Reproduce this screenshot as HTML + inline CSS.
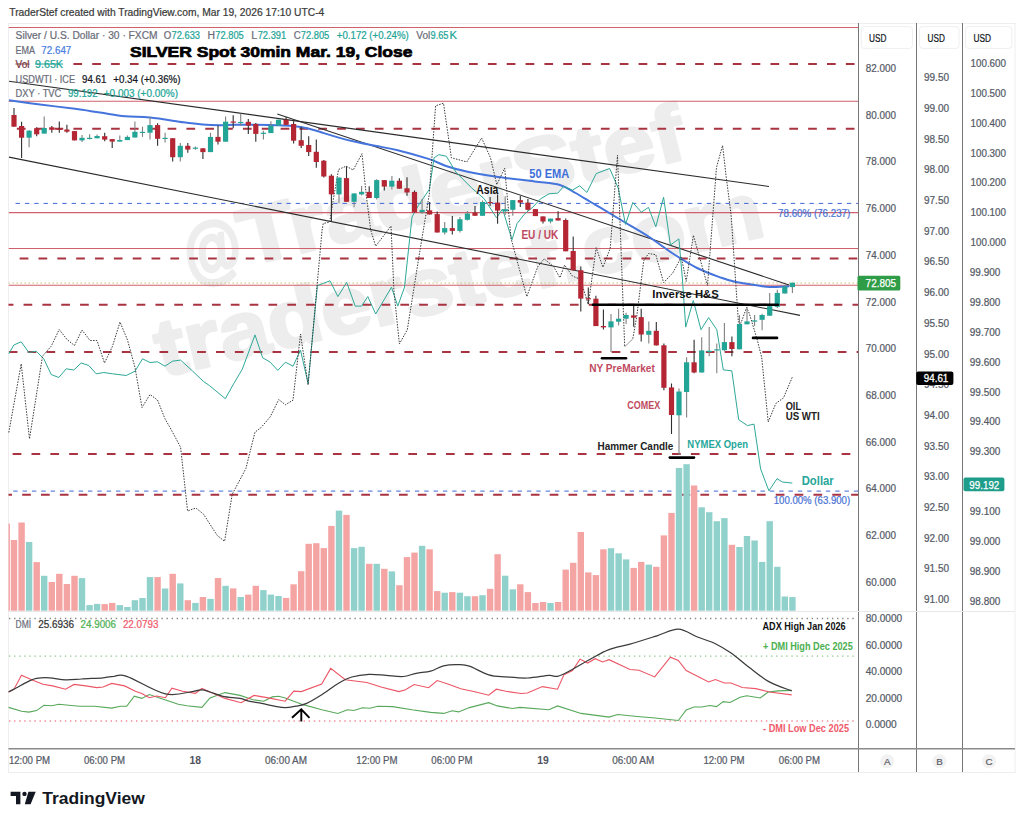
<!DOCTYPE html>
<html><head><meta charset="utf-8">
<style>
html,body{margin:0;padding:0;background:#fff;}
body{width:1024px;height:824px;overflow:hidden;position:relative;font-family:"Liberation Sans",sans-serif;}
svg{position:absolute;left:0;top:0;}
text{font-family:"Liberation Sans",sans-serif;}
</style></head><body>
<svg width="1024" height="824" viewBox="0 0 1024 824">
<rect width="1024" height="824" fill="#fff"/>
<!-- frame -->
<rect x="8.5" y="23.5" width="1006.5" height="749" fill="none" stroke="#eeeeee" stroke-width="1"/>
<line x1="858.5" y1="23" x2="858.5" y2="772" stroke="#767676" stroke-width="1"/>
<line x1="916.5" y1="23" x2="916.5" y2="772" stroke="#767676" stroke-width="1"/>
<line x1="962.5" y1="23" x2="962.5" y2="772" stroke="#767676" stroke-width="1"/>
<line x1="8.5" y1="611.5" x2="1015" y2="611.5" stroke="#e8e8e8" stroke-width="1"/>
<line x1="8.5" y1="748.8" x2="1015" y2="748.8" stroke="#8a8a8a" stroke-width="1.6"/>
<g opacity="0.065" fill="#000" stroke="#000" stroke-width="3" stroke-linejoin="round" font-family="Liberation Sans" font-weight="bold">
<g transform="translate(190,280) rotate(-13.8)"><text x="0" y="0" font-size="74" transform="scale(0.8,1)">@</text><text x="58" y="0" font-size="80" textLength="456" lengthAdjust="spacingAndGlyphs">TraderStef</text></g>
<text x="0" y="0" font-size="80" textLength="622" lengthAdjust="spacingAndGlyphs" transform="translate(162,377) rotate(-13.2)">traderstef.com</text>
</g>
<defs><clipPath id="mp"><rect x="8.5" y="24" width="849.5" height="588"/></clipPath></defs><g clip-path="url(#mp)">
<line x1="8.5" y1="27.5" x2="858" y2="27.5" stroke="#d0606c" stroke-width="1.1"/>
<line x1="8.5" y1="101.3" x2="858" y2="101.3" stroke="#d0606c" stroke-width="1.1"/>
<line x1="8.5" y1="212.6" x2="858" y2="212.6" stroke="#d0606c" stroke-width="1.1"/>
<line x1="8.5" y1="248.5" x2="858" y2="248.5" stroke="#d0606c" stroke-width="1.1"/>
<line x1="8.5" y1="285.3" x2="858" y2="285.3" stroke="#d0606c" stroke-width="1.1"/>
<line x1="73.4" y1="64" x2="858" y2="64" stroke="#a93341" stroke-width="2.1" stroke-dasharray="8.7 10.14"/>
<line x1="16.86" y1="128.7" x2="858" y2="128.7" stroke="#a93341" stroke-width="2.1" stroke-dasharray="8.7 10.14"/>
<line x1="19.66" y1="258.5" x2="858" y2="258.5" stroke="#a93341" stroke-width="2.1" stroke-dasharray="8.7 10.14"/>
<line x1="4.72" y1="304.8" x2="858" y2="304.8" stroke="#a93341" stroke-width="2.1" stroke-dasharray="8.7 10.14"/>
<line x1="8.76" y1="352" x2="858" y2="352" stroke="#a93341" stroke-width="2.1" stroke-dasharray="8.7 10.14"/>
<line x1="12.66" y1="454" x2="858" y2="454" stroke="#a93341" stroke-width="2.1" stroke-dasharray="8.7 10.14"/>
<line x1="3.32" y1="494.8" x2="858" y2="494.8" stroke="#a93341" stroke-width="2.1" stroke-dasharray="8.7 10.14"/>
<line x1="15.56" y1="203.4" x2="858" y2="203.4" stroke="#4068d6" stroke-width="1" stroke-dasharray="4.4 4.94"/>
<line x1="13.28" y1="491.1" x2="858" y2="491.1" stroke="#4068d6" stroke-width="1" stroke-dasharray="4.4 4.94"/>
<line x1="8.5" y1="283" x2="858" y2="283" stroke="#c9c27a" stroke-width="1.2" stroke-dasharray="1.5 2.5"/>
</g>
<rect x="8.5" y="523.6" width="1.4" height="87.1" fill="#f5a4a4"/>
<rect x="10.8" y="540.0" width="6.4" height="70.7" fill="#f5a4a4"/>
<rect x="18.4" y="522.5" width="6.4" height="88.2" fill="#f5a4a4"/>
<rect x="25.9" y="542.0" width="6.4" height="68.7" fill="#90d1cb"/>
<rect x="33.5" y="562.1" width="6.4" height="48.6" fill="#f5a4a4"/>
<rect x="41.0" y="575.8" width="6.4" height="34.9" fill="#90d1cb"/>
<rect x="48.6" y="582.0" width="6.4" height="28.7" fill="#f5a4a4"/>
<rect x="56.1" y="573.8" width="6.4" height="36.9" fill="#f5a4a4"/>
<rect x="63.7" y="584.0" width="6.4" height="26.7" fill="#f5a4a4"/>
<rect x="71.3" y="575.8" width="6.4" height="34.9" fill="#f5a4a4"/>
<rect x="78.8" y="578.1" width="6.4" height="32.6" fill="#90d1cb"/>
<rect x="86.4" y="605.1" width="6.4" height="5.6" fill="#90d1cb"/>
<rect x="93.9" y="603.9" width="6.4" height="6.8" fill="#90d1cb"/>
<rect x="101.5" y="604.1" width="6.4" height="6.6" fill="#f5a4a4"/>
<rect x="109.0" y="602.9" width="6.4" height="7.8" fill="#f5a4a4"/>
<rect x="116.6" y="605.1" width="6.4" height="5.6" fill="#90d1cb"/>
<rect x="124.2" y="607.0" width="6.4" height="3.7" fill="#90d1cb"/>
<rect x="131.7" y="600.2" width="6.4" height="10.5" fill="#90d1cb"/>
<rect x="139.3" y="598.0" width="6.4" height="12.7" fill="#90d1cb"/>
<rect x="146.8" y="577.1" width="6.4" height="33.6" fill="#90d1cb"/>
<rect x="154.4" y="577.1" width="6.4" height="33.6" fill="#f5a4a4"/>
<rect x="161.9" y="588.5" width="6.4" height="22.2" fill="#90d1cb"/>
<rect x="169.5" y="573.8" width="6.4" height="36.9" fill="#f5a4a4"/>
<rect x="177.1" y="583.4" width="6.4" height="27.3" fill="#90d1cb"/>
<rect x="184.6" y="600.2" width="6.4" height="10.5" fill="#f5a4a4"/>
<rect x="192.2" y="602.9" width="6.4" height="7.8" fill="#90d1cb"/>
<rect x="199.7" y="597.0" width="6.4" height="13.7" fill="#f5a4a4"/>
<rect x="207.3" y="598.9" width="6.4" height="11.8" fill="#90d1cb"/>
<rect x="214.8" y="578.0" width="6.4" height="32.7" fill="#f5a4a4"/>
<rect x="222.4" y="585.8" width="6.4" height="24.9" fill="#90d1cb"/>
<rect x="230.0" y="588.4" width="6.4" height="22.3" fill="#f5a4a4"/>
<rect x="237.5" y="597.0" width="6.4" height="13.7" fill="#90d1cb"/>
<rect x="245.1" y="594.6" width="6.4" height="16.1" fill="#f5a4a4"/>
<rect x="252.6" y="585.8" width="6.4" height="24.9" fill="#f5a4a4"/>
<rect x="260.2" y="590.1" width="6.4" height="20.6" fill="#90d1cb"/>
<rect x="267.7" y="594.6" width="6.4" height="16.1" fill="#90d1cb"/>
<rect x="275.3" y="596.0" width="6.4" height="14.7" fill="#90d1cb"/>
<rect x="282.9" y="597.9" width="6.4" height="12.8" fill="#f5a4a4"/>
<rect x="290.4" y="584.3" width="6.4" height="26.4" fill="#f5a4a4"/>
<rect x="298.0" y="571.2" width="6.4" height="39.5" fill="#f5a4a4"/>
<rect x="305.5" y="543.8" width="6.4" height="66.9" fill="#f5a4a4"/>
<rect x="313.1" y="543.2" width="6.4" height="67.5" fill="#f5a4a4"/>
<rect x="320.6" y="548.1" width="6.4" height="62.6" fill="#f5a4a4"/>
<rect x="328.2" y="525.9" width="6.4" height="84.8" fill="#f5a4a4"/>
<rect x="335.8" y="510.6" width="6.4" height="100.1" fill="#90d1cb"/>
<rect x="343.3" y="514.9" width="6.4" height="95.8" fill="#f5a4a4"/>
<rect x="350.9" y="548.1" width="6.4" height="62.6" fill="#90d1cb"/>
<rect x="358.4" y="546.8" width="6.4" height="63.9" fill="#90d1cb"/>
<rect x="366.0" y="563.8" width="6.4" height="46.9" fill="#f5a4a4"/>
<rect x="373.5" y="563.8" width="6.4" height="46.9" fill="#90d1cb"/>
<rect x="381.1" y="568.8" width="6.4" height="41.9" fill="#f5a4a4"/>
<rect x="388.7" y="571.4" width="6.4" height="39.3" fill="#90d1cb"/>
<rect x="396.2" y="585.2" width="6.4" height="25.5" fill="#f5a4a4"/>
<rect x="403.8" y="557.1" width="6.4" height="53.6" fill="#f5a4a4"/>
<rect x="411.3" y="552.6" width="6.4" height="58.1" fill="#f5a4a4"/>
<rect x="418.9" y="545.8" width="6.4" height="64.9" fill="#90d1cb"/>
<rect x="426.4" y="549.3" width="6.4" height="61.4" fill="#f5a4a4"/>
<rect x="434.0" y="591.1" width="6.4" height="19.6" fill="#f5a4a4"/>
<rect x="441.5" y="592.7" width="6.4" height="18.0" fill="#90d1cb"/>
<rect x="449.1" y="592.1" width="6.4" height="18.6" fill="#f5a4a4"/>
<rect x="456.7" y="592.7" width="6.4" height="18.0" fill="#90d1cb"/>
<rect x="464.2" y="596.2" width="6.4" height="14.5" fill="#90d1cb"/>
<rect x="471.8" y="596.2" width="6.4" height="14.5" fill="#f5a4a4"/>
<rect x="479.3" y="595.2" width="6.4" height="15.5" fill="#90d1cb"/>
<rect x="486.9" y="588.8" width="6.4" height="21.9" fill="#f5a4a4"/>
<rect x="494.4" y="554.2" width="6.4" height="56.5" fill="#f5a4a4"/>
<rect x="502.0" y="575.7" width="6.4" height="35.0" fill="#90d1cb"/>
<rect x="509.6" y="589.3" width="6.4" height="21.4" fill="#90d1cb"/>
<rect x="517.1" y="584.3" width="6.4" height="26.4" fill="#f5a4a4"/>
<rect x="524.7" y="592.1" width="6.4" height="18.6" fill="#f5a4a4"/>
<rect x="532.2" y="603.0" width="6.4" height="7.7" fill="#f5a4a4"/>
<rect x="539.8" y="602.0" width="6.4" height="8.7" fill="#f5a4a4"/>
<rect x="547.3" y="603.0" width="6.4" height="7.7" fill="#90d1cb"/>
<rect x="554.9" y="602.0" width="6.4" height="8.7" fill="#f5a4a4"/>
<rect x="562.5" y="569.6" width="6.4" height="41.1" fill="#f5a4a4"/>
<rect x="570.0" y="562.8" width="6.4" height="47.9" fill="#f5a4a4"/>
<rect x="577.6" y="532.0" width="6.4" height="78.7" fill="#f5a4a4"/>
<rect x="585.1" y="572.4" width="6.4" height="38.3" fill="#f5a4a4"/>
<rect x="592.7" y="575.1" width="6.4" height="35.6" fill="#f5a4a4"/>
<rect x="600.2" y="549.3" width="6.4" height="61.4" fill="#f5a4a4"/>
<rect x="607.8" y="548.2" width="6.4" height="62.5" fill="#90d1cb"/>
<rect x="615.4" y="553.3" width="6.4" height="57.4" fill="#90d1cb"/>
<rect x="622.9" y="559.4" width="6.4" height="51.3" fill="#90d1cb"/>
<rect x="630.5" y="567.9" width="6.4" height="42.8" fill="#f5a4a4"/>
<rect x="638.0" y="561.9" width="6.4" height="48.8" fill="#f5a4a4"/>
<rect x="645.6" y="564.6" width="6.4" height="46.1" fill="#90d1cb"/>
<rect x="653.1" y="566.8" width="6.4" height="43.9" fill="#f5a4a4"/>
<rect x="660.7" y="535.4" width="6.4" height="75.3" fill="#f5a4a4"/>
<rect x="668.3" y="512.9" width="6.4" height="97.8" fill="#f5a4a4"/>
<rect x="675.8" y="468.0" width="6.4" height="142.7" fill="#90d1cb"/>
<rect x="683.4" y="464.2" width="6.4" height="146.5" fill="#90d1cb"/>
<rect x="690.9" y="485.5" width="6.4" height="125.2" fill="#f5a4a4"/>
<rect x="698.5" y="507.3" width="6.4" height="103.4" fill="#90d1cb"/>
<rect x="706.0" y="512.2" width="6.4" height="98.5" fill="#90d1cb"/>
<rect x="713.6" y="521.2" width="6.4" height="89.5" fill="#90d1cb"/>
<rect x="721.2" y="518.1" width="6.4" height="92.6" fill="#90d1cb"/>
<rect x="728.7" y="544.8" width="6.4" height="65.9" fill="#f5a4a4"/>
<rect x="736.3" y="547.0" width="6.4" height="63.7" fill="#90d1cb"/>
<rect x="743.8" y="536.0" width="6.4" height="74.7" fill="#90d1cb"/>
<rect x="751.4" y="540.5" width="6.4" height="70.2" fill="#90d1cb"/>
<rect x="758.9" y="561.9" width="6.4" height="48.8" fill="#90d1cb"/>
<rect x="766.5" y="521.2" width="6.4" height="89.5" fill="#90d1cb"/>
<rect x="774.1" y="566.8" width="6.4" height="43.9" fill="#90d1cb"/>
<rect x="781.6" y="596.5" width="6.4" height="14.2" fill="#90d1cb"/>
<rect x="789.2" y="597.1" width="6.4" height="13.6" fill="#90d1cb"/>
<g stroke="#2b2b2b" stroke-width="1.1" fill="none">
<line x1="9" y1="81.2" x2="769" y2="186.5"/>
<line x1="9" y1="157.1" x2="800" y2="315.4"/>
<line x1="277.3" y1="113.9" x2="789" y2="285"/>
</g>
<path d="M9.0,100.3 C14.2,101.0 29.0,103.1 40.0,104.5 C51.0,105.9 65.0,107.5 75.0,108.8 C85.0,110.1 91.7,111.3 100.0,112.5 C108.3,113.7 116.7,115.4 125.0,116.2 C133.3,117.0 140.2,116.5 150.0,117.5 C159.8,118.5 174.8,121.1 183.5,122.3 C192.2,123.5 196.4,124.0 202.5,124.5 C208.6,125.0 214.7,125.2 220.0,125.3 C225.3,125.3 228.3,124.9 234.3,124.8 C240.3,124.7 248.9,124.7 256.0,124.8 C263.1,124.9 270.6,125.0 276.6,125.2 C282.7,125.4 287.1,125.5 292.3,126.0 C297.6,126.5 302.8,127.2 308.1,128.4 C313.4,129.6 318.6,131.5 323.9,133.1 C329.2,134.7 334.4,136.4 339.7,137.9 C344.9,139.4 349.5,140.5 355.4,141.8 C361.3,143.1 368.1,144.4 375.0,145.8 C381.9,147.2 387.8,147.8 396.7,150.0 C405.6,152.2 420.0,156.2 428.5,158.9 C437.0,161.7 441.1,164.4 447.5,166.5 C453.9,168.6 458.7,169.8 466.6,171.5 C474.5,173.2 483.7,174.8 495.0,176.5 C506.3,178.2 523.8,180.1 534.6,181.5 C545.4,182.9 553.1,183.1 559.9,185.0 C566.7,186.9 570.4,190.1 575.6,193.0 C580.9,195.9 587.3,200.1 591.4,202.5 C595.5,204.9 594.5,204.2 600.0,207.4 C605.5,210.7 616.2,217.2 624.3,222.0 C632.4,226.8 640.4,231.2 648.5,236.5 C656.6,241.8 664.7,248.2 672.8,253.5 C680.9,258.8 689.0,263.9 697.1,268.0 C705.2,272.1 714.9,275.4 721.4,277.8 C727.9,280.2 729.8,280.8 735.9,282.1 C742.0,283.4 752.1,284.7 757.8,285.5 C763.5,286.3 764.6,286.9 769.9,287.0 C775.1,287.1 786.1,286.4 789.3,286.3" fill="none" stroke="#4574dc" stroke-width="2"/>
<polyline points="8.8,353.8 13.8,345.0 21.2,341.8 28.8,352.5 36.2,351.2 43.8,358.8 51.2,374.5 58.8,377.5 66.2,368.8 73.8,370.0 81.2,363.0 88.8,365.5 96.2,373.8 103.8,372.5 112.5,373.8 126.2,375.5 135.0,371.2 142.5,358.8 150.0,362.5 157.5,361.8 165.0,366.2 172.5,361.2 180.6,360.1 192.8,371.3 203.4,381.4 209.5,385.6 225.3,398.7 233.8,383.5 242.3,369.2 255.0,334.9 262.6,357.7 270.2,362.2 277.8,370.4 285.4,362.2 293.0,366.2 300.5,350.1 308.1,383.5 317.4,285.6 330.0,280.8 337.9,296.6 346.7,282.4 355.2,306.1 361.5,306.1 367.8,296.6 375.7,314.0 391.5,287.2 397.8,306.1 404.5,287.2 412.0,217.0 418.3,205.5 429.3,189.4 434.1,157.8 438.8,154.7 446.3,156.2 455.8,172.0 471.5,187.8 484.2,198.8 496.6,217.8 502.5,209.0 512.0,239.7 517.0,223.7 524.3,214.2 533.0,207.0 540.3,199.0 549.0,193.8 557.8,193.1 563.6,186.5 572.3,190.2 579.6,185.8 586.9,192.4 596.2,173.6 609.7,168.5 618.2,188.0 625.5,224.4 632.8,202.5 641.3,212.2 648.5,207.4 655.8,226.8 663.6,197.2 670.4,245.0 678.9,238.9 682.5,280.0 685.7,327.1 693.3,300.5 701.0,329.7 708.6,317.6 716.8,329.7 723.3,369.9 731.8,370.8 738.7,419.7 747.5,425.6 754.0,424.1 760.6,468.9 768.9,490.8 777.0,478.7 782.4,482.0 792.3,483.1" fill="none" stroke="#2ea898" stroke-width="1"/>
<polyline points="8.8,432.5 21.2,363.8 29.5,438.8 42.5,356.2 51.2,346.2 59.2,329.5 67.0,339.5 74.5,345.5 82.0,330.0 90.0,340.5 97.0,340.5 104.5,363.0 112.5,346.2 120.0,322.0 127.5,340.0 135.0,367.5 142.0,407.5 150.0,394.5 157.5,400.0 165.0,418.8 170.0,427.5 180.6,447.2 187.6,511.0 195.8,508.0 203.4,514.0 217.1,535.3 224.6,541.3 232.2,494.3 245.9,468.5 255.0,432.1 261.1,427.5 270.2,416.9 278.7,399.6 285.4,404.7 293.0,400.2 300.5,334.0 308.1,385.0 322.1,230.0 323.2,223.5 329.7,222.1 333.0,201.2 337.4,176.0 338.5,169.5 346.1,166.2 353.2,170.0 362.0,153.7 366.3,195.7 370.7,230.0 375.7,246.2 391.0,226.0 394.0,291.9 399.4,343.9 407.3,329.7 419.9,250.9 429.3,194.1 435.6,105.8 443.5,103.2 451.4,157.8 466.8,161.9 481.6,138.0 490.5,157.8 496.8,184.6 504.7,168.2 511.0,238.3 526.8,296.6 537.8,266.7 544.1,258.8 553.6,266.7 559.9,277.7 564.6,265.1 572.5,276.1 580.4,279.3 588.3,304.5 596.2,247.7 602.9,267.3 610.2,248.4 617.5,155.2 624.7,346.8 632.8,338.8 636.8,316.0 643.7,260.8 648.5,253.5 655.8,254.7 663.6,282.6 672.8,272.9 681.3,257.1 686.2,281.4 693.4,235.3 707.5,285.5 716.5,167.3 722.6,145.5 726.2,177.0 731.1,214.7 738.4,322.0 740.9,323.3 746.6,307.5 749.2,313.2 757.3,340.0 761.7,357.5 768.2,421.9 775.9,403.4 783.5,397.9 792.3,377.1" fill="none" stroke="#3a3a3a" stroke-width="1" stroke-dasharray="1.5 1.3"/>
<line x1="14.0" y1="107.9" x2="14.0" y2="126.7" stroke="#2e2e2e" stroke-width="1.1"/>
<rect x="11.4" y="115.0" width="5.2" height="11.7" fill="#b52634"/>
<line x1="21.6" y1="121.8" x2="21.6" y2="158.1" stroke="#2e2e2e" stroke-width="1.1"/>
<rect x="19.0" y="126.0" width="5.2" height="11.7" fill="#b52634"/>
<line x1="29.1" y1="130.0" x2="29.1" y2="147.2" stroke="#808080" stroke-width="1.1"/>
<rect x="26.5" y="130.7" width="5.2" height="7.0" fill="#22a597"/>
<line x1="36.7" y1="127.3" x2="36.7" y2="136.2" stroke="#2e2e2e" stroke-width="1.1"/>
<rect x="34.1" y="128.2" width="5.2" height="6.1" fill="#b52634"/>
<line x1="44.2" y1="116.5" x2="44.2" y2="133.6" stroke="#808080" stroke-width="1.1"/>
<rect x="41.6" y="128.0" width="5.2" height="5.6" fill="#22a597"/>
<line x1="51.8" y1="126.0" x2="51.8" y2="132.8" stroke="#2e2e2e" stroke-width="1.1"/>
<rect x="49.2" y="127.3" width="5.2" height="2.5" fill="#b52634"/>
<line x1="59.3" y1="121.6" x2="59.3" y2="132.8" stroke="#2e2e2e" stroke-width="1.1"/>
<rect x="56.7" y="128.6" width="5.2" height="1.2" fill="#b52634"/>
<line x1="66.9" y1="124.8" x2="66.9" y2="132.8" stroke="#2e2e2e" stroke-width="1.1"/>
<rect x="64.3" y="129.5" width="5.2" height="2.2" fill="#b52634"/>
<line x1="74.5" y1="131.1" x2="74.5" y2="140.4" stroke="#2e2e2e" stroke-width="1.1"/>
<rect x="71.9" y="131.1" width="5.2" height="9.3" fill="#b52634"/>
<line x1="82.0" y1="134.9" x2="82.0" y2="141.9" stroke="#808080" stroke-width="1.1"/>
<rect x="79.4" y="137.8" width="5.2" height="2.6" fill="#22a597"/>
<line x1="89.6" y1="134.3" x2="89.6" y2="139.6" stroke="#808080" stroke-width="1.1"/>
<rect x="87.0" y="137.8" width="5.2" height="1.2" fill="#22a597"/>
<line x1="97.1" y1="134.5" x2="97.1" y2="138.3" stroke="#808080" stroke-width="1.1"/>
<rect x="94.5" y="136.0" width="5.2" height="2.3" fill="#22a597"/>
<line x1="104.7" y1="132.8" x2="104.7" y2="141.3" stroke="#2e2e2e" stroke-width="1.1"/>
<rect x="102.1" y="136.2" width="5.2" height="3.4" fill="#b52634"/>
<line x1="112.2" y1="139.1" x2="112.2" y2="148.0" stroke="#2e2e2e" stroke-width="1.1"/>
<rect x="109.6" y="139.1" width="5.2" height="2.5" fill="#b52634"/>
<line x1="119.8" y1="135.5" x2="119.8" y2="141.6" stroke="#808080" stroke-width="1.1"/>
<rect x="117.2" y="140.0" width="5.2" height="1.6" fill="#22a597"/>
<line x1="127.4" y1="135.4" x2="127.4" y2="140.1" stroke="#808080" stroke-width="1.1"/>
<rect x="124.8" y="136.9" width="5.2" height="3.2" fill="#22a597"/>
<line x1="134.9" y1="121.4" x2="134.9" y2="137.5" stroke="#808080" stroke-width="1.1"/>
<rect x="132.3" y="131.8" width="5.2" height="5.7" fill="#22a597"/>
<line x1="142.5" y1="126.7" x2="142.5" y2="136.9" stroke="#808080" stroke-width="1.1"/>
<rect x="139.9" y="131.8" width="5.2" height="1.2" fill="#22a597"/>
<line x1="150.0" y1="117.2" x2="150.0" y2="139.4" stroke="#808080" stroke-width="1.1"/>
<rect x="147.4" y="125.1" width="5.2" height="7.6" fill="#22a597"/>
<line x1="157.6" y1="123.2" x2="157.6" y2="145.8" stroke="#2e2e2e" stroke-width="1.1"/>
<rect x="155.0" y="125.1" width="5.2" height="13.7" fill="#b52634"/>
<line x1="165.1" y1="132.8" x2="165.1" y2="142.6" stroke="#808080" stroke-width="1.1"/>
<rect x="162.5" y="137.8" width="5.2" height="1.2" fill="#22a597"/>
<line x1="172.7" y1="138.2" x2="172.7" y2="161.6" stroke="#2e2e2e" stroke-width="1.1"/>
<rect x="170.1" y="138.2" width="5.2" height="19.0" fill="#b52634"/>
<line x1="180.3" y1="143.0" x2="180.3" y2="161.6" stroke="#808080" stroke-width="1.1"/>
<rect x="177.7" y="145.8" width="5.2" height="11.4" fill="#22a597"/>
<line x1="187.8" y1="143.0" x2="187.8" y2="152.8" stroke="#2e2e2e" stroke-width="1.1"/>
<rect x="185.2" y="145.8" width="5.2" height="3.8" fill="#b52634"/>
<line x1="195.4" y1="146.4" x2="195.4" y2="149.8" stroke="#808080" stroke-width="1.1"/>
<rect x="192.8" y="147.6" width="5.2" height="1.2" fill="#22a597"/>
<line x1="202.9" y1="148.3" x2="202.9" y2="159.1" stroke="#2e2e2e" stroke-width="1.1"/>
<rect x="200.3" y="148.3" width="5.2" height="3.8" fill="#b52634"/>
<line x1="210.5" y1="132.8" x2="210.5" y2="152.1" stroke="#808080" stroke-width="1.1"/>
<rect x="207.9" y="136.9" width="5.2" height="15.2" fill="#22a597"/>
<line x1="218.0" y1="125.5" x2="218.0" y2="144.5" stroke="#2e2e2e" stroke-width="1.1"/>
<rect x="215.4" y="136.9" width="5.2" height="4.8" fill="#b52634"/>
<line x1="225.6" y1="116.6" x2="225.6" y2="141.7" stroke="#808080" stroke-width="1.1"/>
<rect x="223.0" y="121.7" width="5.2" height="20.0" fill="#22a597"/>
<line x1="233.2" y1="115.3" x2="233.2" y2="128.3" stroke="#2e2e2e" stroke-width="1.1"/>
<rect x="230.6" y="121.5" width="5.2" height="1.2" fill="#b52634"/>
<line x1="240.7" y1="113.4" x2="240.7" y2="125.5" stroke="#808080" stroke-width="1.1"/>
<rect x="238.1" y="121.9" width="5.2" height="1.2" fill="#22a597"/>
<line x1="248.3" y1="118.9" x2="248.3" y2="133.9" stroke="#2e2e2e" stroke-width="1.1"/>
<rect x="245.7" y="121.8" width="5.2" height="3.8" fill="#b52634"/>
<line x1="255.8" y1="122.9" x2="255.8" y2="141.8" stroke="#2e2e2e" stroke-width="1.1"/>
<rect x="253.2" y="124.0" width="5.2" height="9.9" fill="#b52634"/>
<line x1="263.4" y1="130.8" x2="263.4" y2="139.4" stroke="#808080" stroke-width="1.1"/>
<rect x="260.8" y="132.7" width="5.2" height="1.2" fill="#22a597"/>
<line x1="270.9" y1="121.3" x2="270.9" y2="133.1" stroke="#808080" stroke-width="1.1"/>
<rect x="268.3" y="125.6" width="5.2" height="7.5" fill="#22a597"/>
<line x1="278.5" y1="119.7" x2="278.5" y2="125.6" stroke="#808080" stroke-width="1.1"/>
<rect x="275.9" y="119.7" width="5.2" height="5.9" fill="#22a597"/>
<line x1="286.1" y1="117.0" x2="286.1" y2="124.9" stroke="#2e2e2e" stroke-width="1.1"/>
<rect x="283.5" y="119.7" width="5.2" height="5.2" fill="#b52634"/>
<line x1="293.6" y1="121.3" x2="293.6" y2="143.4" stroke="#2e2e2e" stroke-width="1.1"/>
<rect x="291.0" y="124.0" width="5.2" height="16.7" fill="#b52634"/>
<line x1="301.2" y1="126.8" x2="301.2" y2="148.1" stroke="#2e2e2e" stroke-width="1.1"/>
<rect x="298.6" y="140.2" width="5.2" height="5.6" fill="#b52634"/>
<line x1="308.7" y1="136.3" x2="308.7" y2="156.0" stroke="#2e2e2e" stroke-width="1.1"/>
<rect x="306.1" y="145.0" width="5.2" height="7.1" fill="#b52634"/>
<line x1="316.3" y1="139.4" x2="316.3" y2="167.8" stroke="#2e2e2e" stroke-width="1.1"/>
<rect x="313.7" y="151.8" width="5.2" height="10.2" fill="#b52634"/>
<line x1="323.8" y1="160.0" x2="323.8" y2="177.6" stroke="#2e2e2e" stroke-width="1.1"/>
<rect x="321.2" y="160.7" width="5.2" height="15.8" fill="#b52634"/>
<line x1="331.4" y1="174.2" x2="331.4" y2="221.5" stroke="#2e2e2e" stroke-width="1.1"/>
<rect x="328.8" y="175.7" width="5.2" height="18.7" fill="#b52634"/>
<line x1="339.0" y1="177.6" x2="339.0" y2="203.3" stroke="#808080" stroke-width="1.1"/>
<rect x="336.4" y="177.6" width="5.2" height="16.8" fill="#22a597"/>
<line x1="346.5" y1="166.3" x2="346.5" y2="201.8" stroke="#2e2e2e" stroke-width="1.1"/>
<rect x="343.9" y="178.1" width="5.2" height="23.7" fill="#b52634"/>
<line x1="354.1" y1="193.4" x2="354.1" y2="207.3" stroke="#808080" stroke-width="1.1"/>
<rect x="351.5" y="193.4" width="5.2" height="8.4" fill="#22a597"/>
<line x1="361.6" y1="186.0" x2="361.6" y2="195.4" stroke="#808080" stroke-width="1.1"/>
<rect x="359.0" y="191.8" width="5.2" height="2.6" fill="#22a597"/>
<line x1="369.2" y1="186.2" x2="369.2" y2="198.0" stroke="#2e2e2e" stroke-width="1.1"/>
<rect x="366.6" y="191.9" width="5.2" height="6.1" fill="#b52634"/>
<line x1="376.7" y1="179.2" x2="376.7" y2="199.5" stroke="#808080" stroke-width="1.1"/>
<rect x="374.1" y="180.1" width="5.2" height="17.9" fill="#22a597"/>
<line x1="384.3" y1="180.1" x2="384.3" y2="190.6" stroke="#2e2e2e" stroke-width="1.1"/>
<rect x="381.7" y="180.1" width="5.2" height="6.5" fill="#b52634"/>
<line x1="391.9" y1="176.0" x2="391.9" y2="189.6" stroke="#808080" stroke-width="1.1"/>
<rect x="389.2" y="180.7" width="5.2" height="5.9" fill="#22a597"/>
<line x1="399.4" y1="178.2" x2="399.4" y2="188.7" stroke="#2e2e2e" stroke-width="1.1"/>
<rect x="396.8" y="180.7" width="5.2" height="8.0" fill="#b52634"/>
<line x1="407.0" y1="177.3" x2="407.0" y2="195.7" stroke="#2e2e2e" stroke-width="1.1"/>
<rect x="404.4" y="188.3" width="5.2" height="4.2" fill="#b52634"/>
<line x1="414.5" y1="190.4" x2="414.5" y2="212.5" stroke="#2e2e2e" stroke-width="1.1"/>
<rect x="411.9" y="191.9" width="5.2" height="20.6" fill="#b52634"/>
<line x1="422.1" y1="198.9" x2="422.1" y2="214.1" stroke="#808080" stroke-width="1.1"/>
<rect x="419.5" y="209.9" width="5.2" height="2.3" fill="#22a597"/>
<line x1="429.6" y1="202.0" x2="429.6" y2="214.5" stroke="#2e2e2e" stroke-width="1.1"/>
<rect x="427.0" y="210.3" width="5.2" height="4.2" fill="#b52634"/>
<line x1="437.2" y1="211.6" x2="437.2" y2="232.5" stroke="#2e2e2e" stroke-width="1.1"/>
<rect x="434.6" y="214.1" width="5.2" height="18.4" fill="#b52634"/>
<line x1="444.7" y1="222.1" x2="444.7" y2="234.4" stroke="#808080" stroke-width="1.1"/>
<rect x="442.1" y="228.1" width="5.2" height="4.4" fill="#22a597"/>
<line x1="452.3" y1="216.0" x2="452.3" y2="234.4" stroke="#2e2e2e" stroke-width="1.1"/>
<rect x="449.7" y="228.1" width="5.2" height="2.8" fill="#b52634"/>
<line x1="459.9" y1="217.0" x2="459.9" y2="232.5" stroke="#808080" stroke-width="1.1"/>
<rect x="457.3" y="219.2" width="5.2" height="11.7" fill="#22a597"/>
<line x1="467.4" y1="210.9" x2="467.4" y2="220.5" stroke="#808080" stroke-width="1.1"/>
<rect x="464.8" y="213.5" width="5.2" height="6.3" fill="#22a597"/>
<line x1="475.0" y1="205.9" x2="475.0" y2="215.8" stroke="#2e2e2e" stroke-width="1.1"/>
<rect x="472.4" y="212.5" width="5.2" height="3.3" fill="#b52634"/>
<line x1="482.5" y1="200.5" x2="482.5" y2="215.8" stroke="#808080" stroke-width="1.1"/>
<rect x="479.9" y="202.0" width="5.2" height="13.8" fill="#22a597"/>
<line x1="490.1" y1="197.0" x2="490.1" y2="205.9" stroke="#2e2e2e" stroke-width="1.1"/>
<rect x="487.5" y="202.0" width="5.2" height="1.2" fill="#b52634"/>
<line x1="497.6" y1="194.6" x2="497.6" y2="223.7" stroke="#2e2e2e" stroke-width="1.1"/>
<rect x="495.0" y="202.6" width="5.2" height="8.0" fill="#b52634"/>
<line x1="505.2" y1="196.3" x2="505.2" y2="215.0" stroke="#808080" stroke-width="1.1"/>
<rect x="502.6" y="209.1" width="5.2" height="2.2" fill="#22a597"/>
<line x1="512.8" y1="200.1" x2="512.8" y2="215.7" stroke="#808080" stroke-width="1.1"/>
<rect x="510.2" y="200.1" width="5.2" height="9.7" fill="#22a597"/>
<line x1="520.3" y1="196.0" x2="520.3" y2="206.9" stroke="#2e2e2e" stroke-width="1.1"/>
<rect x="517.7" y="200.1" width="5.2" height="2.5" fill="#b52634"/>
<line x1="527.9" y1="198.9" x2="527.9" y2="210.6" stroke="#2e2e2e" stroke-width="1.1"/>
<rect x="525.3" y="202.6" width="5.2" height="7.2" fill="#b52634"/>
<line x1="535.4" y1="209.1" x2="535.4" y2="216.1" stroke="#2e2e2e" stroke-width="1.1"/>
<rect x="532.8" y="209.1" width="5.2" height="7.0" fill="#b52634"/>
<line x1="543.0" y1="216.4" x2="543.0" y2="223.4" stroke="#2e2e2e" stroke-width="1.1"/>
<rect x="540.4" y="216.4" width="5.2" height="5.1" fill="#b52634"/>
<line x1="550.5" y1="218.6" x2="550.5" y2="223.4" stroke="#808080" stroke-width="1.1"/>
<rect x="547.9" y="218.6" width="5.2" height="2.9" fill="#22a597"/>
<line x1="558.1" y1="211.3" x2="558.1" y2="220.5" stroke="#2e2e2e" stroke-width="1.1"/>
<rect x="555.5" y="218.1" width="5.2" height="2.4" fill="#b52634"/>
<line x1="565.7" y1="218.6" x2="565.7" y2="251.3" stroke="#2e2e2e" stroke-width="1.1"/>
<rect x="563.1" y="220.0" width="5.2" height="31.3" fill="#b52634"/>
<line x1="573.2" y1="236.5" x2="573.2" y2="270.2" stroke="#2e2e2e" stroke-width="1.1"/>
<rect x="570.6" y="251.0" width="5.2" height="19.2" fill="#b52634"/>
<line x1="580.8" y1="266.6" x2="580.8" y2="311.4" stroke="#2e2e2e" stroke-width="1.1"/>
<rect x="578.2" y="270.2" width="5.2" height="28.4" fill="#b52634"/>
<line x1="588.3" y1="287.4" x2="588.3" y2="304.0" stroke="#2e2e2e" stroke-width="1.1"/>
<rect x="585.7" y="298.2" width="5.2" height="1.2" fill="#b52634"/>
<line x1="595.9" y1="295.8" x2="595.9" y2="326.1" stroke="#2e2e2e" stroke-width="1.1"/>
<rect x="593.3" y="298.7" width="5.2" height="27.4" fill="#b52634"/>
<line x1="603.4" y1="309.4" x2="603.4" y2="329.4" stroke="#2e2e2e" stroke-width="1.1"/>
<rect x="600.8" y="326.0" width="5.2" height="1.4" fill="#b52634"/>
<line x1="611.0" y1="314.0" x2="611.0" y2="352.1" stroke="#808080" stroke-width="1.1"/>
<rect x="608.4" y="321.4" width="5.2" height="6.0" fill="#22a597"/>
<line x1="618.6" y1="308.7" x2="618.6" y2="325.4" stroke="#808080" stroke-width="1.1"/>
<rect x="616.0" y="318.7" width="5.2" height="3.0" fill="#22a597"/>
<line x1="626.1" y1="312.7" x2="626.1" y2="324.0" stroke="#808080" stroke-width="1.1"/>
<rect x="623.5" y="315.0" width="5.2" height="3.7" fill="#22a597"/>
<line x1="633.7" y1="306.0" x2="633.7" y2="326.8" stroke="#2e2e2e" stroke-width="1.1"/>
<rect x="631.1" y="315.4" width="5.2" height="2.3" fill="#b52634"/>
<line x1="641.2" y1="308.7" x2="641.2" y2="341.4" stroke="#2e2e2e" stroke-width="1.1"/>
<rect x="638.6" y="317.1" width="5.2" height="17.4" fill="#b52634"/>
<line x1="648.8" y1="321.4" x2="648.8" y2="343.4" stroke="#808080" stroke-width="1.1"/>
<rect x="646.2" y="330.8" width="5.2" height="4.0" fill="#22a597"/>
<line x1="656.3" y1="322.1" x2="656.3" y2="345.4" stroke="#2e2e2e" stroke-width="1.1"/>
<rect x="653.7" y="330.8" width="5.2" height="14.6" fill="#b52634"/>
<line x1="663.9" y1="343.6" x2="663.9" y2="390.3" stroke="#2e2e2e" stroke-width="1.1"/>
<rect x="661.3" y="345.3" width="5.2" height="42.5" fill="#b52634"/>
<line x1="671.5" y1="383.5" x2="671.5" y2="434.0" stroke="#2e2e2e" stroke-width="1.1"/>
<rect x="668.9" y="387.4" width="5.2" height="27.6" fill="#b52634"/>
<line x1="679.0" y1="388.6" x2="679.0" y2="454.9" stroke="#808080" stroke-width="1.1"/>
<rect x="676.4" y="391.5" width="5.2" height="23.8" fill="#22a597"/>
<line x1="686.6" y1="357.2" x2="686.6" y2="417.5" stroke="#808080" stroke-width="1.1"/>
<rect x="684.0" y="362.3" width="5.2" height="29.7" fill="#22a597"/>
<line x1="694.1" y1="339.8" x2="694.1" y2="373.3" stroke="#2e2e2e" stroke-width="1.1"/>
<rect x="691.5" y="362.3" width="5.2" height="10.2" fill="#b52634"/>
<line x1="701.7" y1="337.3" x2="701.7" y2="372.5" stroke="#808080" stroke-width="1.1"/>
<rect x="699.1" y="350.4" width="5.2" height="22.1" fill="#22a597"/>
<line x1="709.2" y1="327.1" x2="709.2" y2="356.3" stroke="#808080" stroke-width="1.1"/>
<rect x="706.6" y="350.8" width="5.2" height="1.2" fill="#22a597"/>
<line x1="716.8" y1="343.6" x2="716.8" y2="373.3" stroke="#808080" stroke-width="1.1"/>
<rect x="714.2" y="349.3" width="5.2" height="1.2" fill="#22a597"/>
<line x1="724.4" y1="323.1" x2="724.4" y2="351.2" stroke="#808080" stroke-width="1.1"/>
<rect x="721.8" y="342.1" width="5.2" height="8.1" fill="#22a597"/>
<line x1="731.9" y1="336.6" x2="731.9" y2="356.3" stroke="#2e2e2e" stroke-width="1.1"/>
<rect x="729.3" y="342.1" width="5.2" height="6.9" fill="#b52634"/>
<line x1="739.5" y1="315.1" x2="739.5" y2="349.3" stroke="#808080" stroke-width="1.1"/>
<rect x="736.9" y="324.0" width="5.2" height="25.3" fill="#22a597"/>
<line x1="747.0" y1="306.8" x2="747.0" y2="324.3" stroke="#808080" stroke-width="1.1"/>
<rect x="744.4" y="321.4" width="5.2" height="2.9" fill="#22a597"/>
<line x1="754.6" y1="315.0" x2="754.6" y2="325.9" stroke="#808080" stroke-width="1.1"/>
<rect x="752.0" y="320.4" width="5.2" height="1.2" fill="#22a597"/>
<line x1="762.1" y1="313.8" x2="762.1" y2="330.3" stroke="#808080" stroke-width="1.1"/>
<rect x="759.5" y="315.0" width="5.2" height="4.8" fill="#22a597"/>
<line x1="769.7" y1="292.9" x2="769.7" y2="315.7" stroke="#808080" stroke-width="1.1"/>
<rect x="767.1" y="306.2" width="5.2" height="9.5" fill="#22a597"/>
<line x1="777.3" y1="289.7" x2="777.3" y2="308.1" stroke="#808080" stroke-width="1.1"/>
<rect x="774.7" y="292.9" width="5.2" height="13.9" fill="#22a597"/>
<line x1="784.8" y1="285.2" x2="784.8" y2="293.5" stroke="#808080" stroke-width="1.1"/>
<rect x="782.2" y="286.5" width="5.2" height="7.0" fill="#22a597"/>
<line x1="792.4" y1="282.7" x2="792.4" y2="292.9" stroke="#808080" stroke-width="1.1"/>
<rect x="789.8" y="282.7" width="5.2" height="4.4" fill="#22a597"/>
<line x1="593" y1="304.8" x2="778" y2="304.8" stroke="#000" stroke-width="2.6" stroke-linecap="round"/>
<line x1="602" y1="358.3" x2="626" y2="358.3" stroke="#000" stroke-width="2.6" stroke-linecap="round"/>
<line x1="669.8" y1="457.6" x2="694" y2="457.6" stroke="#000" stroke-width="2.6" stroke-linecap="round"/>
<line x1="753" y1="337.9" x2="777" y2="337.9" stroke="#000" stroke-width="2.6" stroke-linecap="round"/>
<line x1="9.0" y1="618.5" x2="857" y2="618.5" stroke="#8a8a8a" stroke-width="1.4" stroke-dasharray="1.4 3.68"/>
<line x1="9" y1="656.1" x2="857" y2="656.1" stroke="#8fc88f" stroke-width="1.4" stroke-dasharray="1.4 3.68"/>
<line x1="9" y1="721" x2="857" y2="721" stroke="#f08a96" stroke-width="1.4" stroke-dasharray="1.4 3.68"/>
<polyline points="8.6,707.4 21.5,711.3 29.0,712.1 36.5,710.6 44.0,705.3 51.6,705.7 59.1,704.2 68.7,705.3 79.5,706.3 94.5,706.3 111.7,708.1 120.3,706.3 126.7,706.3 134.3,696.2 141.8,698.4 149.3,694.5 163.3,699.2 178.3,704.2 186.9,705.7 201.9,707.4 210.0,698.0 225.0,692.6 240.1,695.4 253.0,699.7 263.7,701.2 272.3,696.9 278.7,696.3 285.2,698.0 302.4,704.4 321.7,709.8 337.8,713.5 347.5,709.8 353.9,710.5 362.5,707.7 370.0,708.3 377.6,706.2 392.6,706.6 411.9,709.8 430.7,712.4 443.6,713.4 452.2,710.7 458.7,711.9 469.4,707.6 488.7,702.7 497.3,705.9 512.4,708.5 519.9,707.4 548.9,709.8 557.5,705.9 581.1,713.4 609.0,717.1 617.6,714.5 640.0,716.7 652.5,717.8 678.3,720.5 686.2,710.0 694.0,707.0 701.9,707.0 709.7,705.5 716.5,706.6 723.2,701.6 730.0,702.5 740.1,697.2 746.8,695.8 760.3,698.0 768.1,692.0 778.2,690.9 791.7,690.4" fill="none" stroke="#57a85a" stroke-width="1.1"/>
<polyline points="8.6,692.0 14.0,689.2 21.5,675.2 32.2,679.9 43.0,684.2 52.6,685.9 65.5,689.2 74.1,684.4 85.9,685.9 96.7,687.6 103.1,687.0 111.7,683.4 124.6,685.9 135.3,691.3 141.8,693.4 149.3,697.7 156.8,696.0 165.4,697.7 171.9,688.1 182.6,691.3 195.5,693.4 201.9,688.5 210.0,692.0 225.0,698.4 241.1,702.7 254.0,695.4 266.9,697.6 285.2,701.2 293.8,691.1 301.3,691.6 321.7,684.0 330.7,668.4 345.3,679.7 366.8,682.5 381.9,687.3 399.0,691.6 405.5,689.8 414.1,684.5 428.6,687.7 437.2,680.6 447.9,684.0 460.8,688.7 475.9,692.0 488.7,695.2 496.3,689.2 505.9,691.3 521.0,693.5 527.4,693.0 542.4,686.6 557.5,689.2 563.9,674.8 572.5,670.5 580.0,659.1 587.6,663.0 595.1,658.7 602.6,661.9 609.0,659.7 630.0,669.5 639.0,670.2 654.7,676.9 670.4,657.2 678.3,660.5 686.2,670.6 708.6,681.9 715.4,679.6 724.3,683.0 731.1,683.0 742.3,687.5 755.8,688.6 769.3,692.0 791.7,694.9" fill="none" stroke="#ec5565" stroke-width="1.1"/>
<path d="M8.6,692.0 C9.8,691.3 12.9,689.7 16.1,688.0 C19.3,686.3 24.5,683.2 27.9,681.6 C31.3,680.0 32.9,679.0 36.5,678.4 C40.1,677.8 44.6,677.5 49.4,677.8 C54.2,678.0 60.1,679.7 65.5,679.9 C70.9,680.1 75.3,679.4 81.6,679.0 C87.9,678.6 97.7,678.2 103.1,677.8 C108.5,677.3 110.0,676.5 113.9,676.3 C117.8,676.0 118.1,673.4 126.7,676.3 C135.3,679.2 154.3,691.4 165.4,693.9 C176.5,696.4 187.2,692.0 193.3,691.3 C199.4,690.6 199.1,689.7 201.9,689.8 C204.7,689.9 206.5,690.9 210.0,692.0 C213.5,693.1 217.9,695.2 222.9,696.3 C227.9,697.4 235.8,697.6 240.1,698.4 C244.4,699.2 245.1,700.4 248.7,701.2 C252.3,702.0 257.3,702.6 261.6,703.4 C265.9,704.2 270.5,705.5 274.4,706.2 C278.3,706.9 281.6,707.7 285.2,707.7 C288.8,707.7 292.3,706.9 295.9,706.2 C299.5,705.5 302.4,705.3 306.7,703.4 C311.0,701.5 316.3,698.2 321.7,694.8 C327.1,691.4 333.9,686.0 338.9,683.0 C343.9,680.0 346.8,678.4 351.8,677.0 C356.8,675.6 363.3,674.7 369.0,674.4 C374.7,674.1 380.5,675.0 386.2,675.4 C391.9,675.8 398.3,676.9 403.3,676.5 C408.3,676.1 411.6,674.2 416.2,673.3 C420.8,672.4 426.1,672.4 430.7,671.1 C435.3,669.9 438.9,666.9 443.6,665.8 C448.3,664.7 454.4,664.6 458.7,664.7 C463.0,664.8 464.4,664.5 469.4,666.2 C474.4,667.9 482.6,673.0 488.7,674.8 C494.8,676.6 499.4,676.4 505.9,676.9 C512.4,677.4 520.2,678.2 527.4,678.0 C534.6,677.8 543.9,675.7 548.9,675.4 C553.9,675.1 553.9,677.1 557.5,676.3 C561.1,675.5 564.7,673.5 570.4,670.5 C576.1,667.5 585.5,661.7 591.9,658.2 C598.3,654.7 602.6,652.0 609.0,649.6 C615.4,647.2 622.0,646.4 630.0,644.1 C638.0,641.8 649.0,638.3 657.0,635.8 C665.0,633.3 671.6,628.9 678.3,629.1 C685.0,629.3 691.2,634.6 697.4,637.0 C703.6,639.4 709.8,641.0 715.4,643.7 C721.0,646.4 725.5,649.2 731.1,653.1 C736.7,657.0 742.6,662.5 749.0,667.3 C755.4,672.1 762.2,678.0 769.3,681.9 C776.4,685.8 788.0,689.4 791.7,690.9" fill="none" stroke="#3b3b3b" stroke-width="1.25"/>
<path d="M301.3,721.6 V709.6 M292,717.8 L301.3,709.4 L309.5,717.8" fill="none" stroke="#000" stroke-width="1.9"/>
<text x="9.3" y="16.2" font-size="10.4" fill="#3a3a3a" textLength="315" lengthAdjust="spacingAndGlyphs" stroke="#3a3a3a" stroke-width="0.22">TraderStef created with TradingView.com, Mar 19, 2026 17:10 UTC-4</text>
<text x="15.6" y="39.3" font-size="10" fill="#6a6d78" textLength="142" lengthAdjust="spacingAndGlyphs" stroke="#6a6d78" stroke-width="0.22">Silver / U.S. Dollar · 30 · FXCM</text>
<text x="163.8" y="39.3" font-size="10" fill="#6a6d78" textLength="7.5" lengthAdjust="spacingAndGlyphs" stroke="#6a6d78" stroke-width="0.22">O</text>
<text x="171.5" y="39.3" font-size="10" fill="#22a597" textLength="28.5" lengthAdjust="spacingAndGlyphs" stroke="#22a597" stroke-width="0.22">72.633</text>
<text x="207.5" y="39.3" font-size="10" fill="#6a6d78" textLength="7.5" lengthAdjust="spacingAndGlyphs" stroke="#6a6d78" stroke-width="0.22">H</text>
<text x="215.3" y="39.3" font-size="10" fill="#22a597" textLength="28.5" lengthAdjust="spacingAndGlyphs" stroke="#22a597" stroke-width="0.22">72.805</text>
<text x="251.3" y="39.3" font-size="10" fill="#6a6d78" textLength="6" lengthAdjust="spacingAndGlyphs" stroke="#6a6d78" stroke-width="0.22">L</text>
<text x="257.7" y="39.3" font-size="10" fill="#22a597" textLength="28.5" lengthAdjust="spacingAndGlyphs" stroke="#22a597" stroke-width="0.22">72.391</text>
<text x="293.8" y="39.3" font-size="10" fill="#6a6d78" textLength="7" lengthAdjust="spacingAndGlyphs" stroke="#6a6d78" stroke-width="0.22">C</text>
<text x="300.8" y="39.3" font-size="10" fill="#22a597" textLength="28.5" lengthAdjust="spacingAndGlyphs" stroke="#22a597" stroke-width="0.22">72.805</text>
<text x="336.8" y="39.3" font-size="10" fill="#22a597" textLength="72" lengthAdjust="spacingAndGlyphs" stroke="#22a597" stroke-width="0.22">+0.172 (+0.24%)</text>
<text x="416.3" y="39.3" font-size="10" fill="#6a6d78" textLength="14" lengthAdjust="spacingAndGlyphs" stroke="#6a6d78" stroke-width="0.22">Vol</text>
<text x="430.5" y="39.3" font-size="10" fill="#22a597" textLength="18" lengthAdjust="spacingAndGlyphs" stroke="#22a597" stroke-width="0.22">9.65</text>
<text x="449.5" y="39.3" font-size="10" fill="#22a597" textLength="7.5" lengthAdjust="spacingAndGlyphs" stroke="#22a597" stroke-width="0.22">K</text>
<text x="15.6" y="53.7" font-size="10" fill="#6a6d78" textLength="19.5" lengthAdjust="spacingAndGlyphs" stroke="#6a6d78" stroke-width="0.22">EMA</text>
<text x="41.3" y="53.7" font-size="10" fill="#4a7ee0" textLength="30" lengthAdjust="spacingAndGlyphs" stroke="#4a7ee0" stroke-width="0.22">72.647</text>
<text x="15.6" y="67.9" font-size="10" fill="#7b3a42" textLength="14" lengthAdjust="spacingAndGlyphs" stroke="#7b3a42" stroke-width="0.22">Vol</text>
<text x="35" y="67.9" font-size="10" fill="#22a597" textLength="28" lengthAdjust="spacingAndGlyphs" stroke="#22a597" stroke-width="0.22">9.65K</text>
<line x1="15.5" y1="64" x2="29.5" y2="64" stroke="#7b3a42" stroke-width="1"/>
<line x1="35" y1="64" x2="63" y2="64" stroke="#22a597" stroke-width="1"/>
<text x="15.6" y="82.5" font-size="10" fill="#6a6d78" textLength="59.5" lengthAdjust="spacingAndGlyphs" stroke="#6a6d78" stroke-width="0.22">USDWTI · ICE</text>
<text x="82" y="82.5" font-size="10" fill="#131722" textLength="24.3" lengthAdjust="spacingAndGlyphs" stroke="#131722" stroke-width="0.22">94.61</text>
<text x="113.3" y="82.5" font-size="10" fill="#131722" textLength="67.2" lengthAdjust="spacingAndGlyphs" stroke="#131722" stroke-width="0.22">+0.34 (+0.36%)</text>
<text x="15.6" y="97.3" font-size="10" fill="#6a6d78" textLength="45.7" lengthAdjust="spacingAndGlyphs" stroke="#6a6d78" stroke-width="0.22">DXY · TVC</text>
<text x="68" y="97.3" font-size="10" fill="#22a597" textLength="29.5" lengthAdjust="spacingAndGlyphs" stroke="#22a597" stroke-width="0.22">99.192</text>
<text x="103.8" y="97.3" font-size="10" fill="#22a597" textLength="74.2" lengthAdjust="spacingAndGlyphs" stroke="#22a597" stroke-width="0.22">+0.003 (+0.00%)</text>
<text x="130" y="57" font-size="14.8" fill="#000" font-weight="bold" textLength="282.5" lengthAdjust="spacingAndGlyphs" stroke="#000" stroke-width="0.7">SILVER Spot 30min Mar. 19, Close</text>
<text x="529.3" y="178.3" font-size="12" fill="#3d6fd9" font-weight="bold" textLength="40" lengthAdjust="spacingAndGlyphs">50 EMA</text>
<text x="476.3" y="194.1" font-size="12" fill="#111" font-weight="bold" textLength="22.1" lengthAdjust="spacingAndGlyphs">Asia</text>
<text x="521.4" y="238.9" font-size="12" fill="#c04a60" font-weight="bold" textLength="36.9" lengthAdjust="spacingAndGlyphs">EU / UK</text>
<text x="778.1" y="217.3" font-size="10" fill="#4a74d6" textLength="72.2" lengthAdjust="spacingAndGlyphs" stroke="#4a74d6" stroke-width="0.22">78.60% (76.237)</text>
<text x="652.3" y="298.2" font-size="11.7" fill="#111" font-weight="bold" textLength="66.5" lengthAdjust="spacingAndGlyphs">Inverse H&amp;S</text>
<text x="589.2" y="371.7" font-size="11" fill="#c04a60" font-weight="bold" textLength="65.6" lengthAdjust="spacingAndGlyphs">NY PreMarket</text>
<text x="627.3" y="409.4" font-size="11" fill="#c04a60" font-weight="bold" textLength="32.8" lengthAdjust="spacingAndGlyphs">COMEX</text>
<text x="597.5" y="449.9" font-size="11" fill="#222" font-weight="bold" textLength="75.9" lengthAdjust="spacingAndGlyphs">Hammer Candle</text>
<text x="687.3" y="448.2" font-size="11" fill="#26a69a" font-weight="bold" textLength="60.7" lengthAdjust="spacingAndGlyphs">NYMEX Open</text>
<text x="785.7" y="409.9" font-size="10" fill="#222" font-weight="bold" textLength="15.3" lengthAdjust="spacingAndGlyphs">OIL</text>
<text x="785.7" y="420.4" font-size="10" fill="#222" font-weight="bold" textLength="33.9" lengthAdjust="spacingAndGlyphs">US WTI</text>
<text x="801.7" y="484.6" font-size="12" fill="#26a69a" font-weight="bold" textLength="32.1" lengthAdjust="spacingAndGlyphs">Dollar</text>
<text x="773.7" y="504.3" font-size="10" fill="#4a74d6" textLength="76.5" lengthAdjust="spacingAndGlyphs" stroke="#4a74d6" stroke-width="0.22">100.00% (63.900)</text>
<text x="15.5" y="627.9" font-size="10" fill="#6a6d78" textLength="15.6" lengthAdjust="spacingAndGlyphs" stroke="#6a6d78" stroke-width="0.22">DMI</text>
<text x="38.2" y="627.9" font-size="10" fill="#333" textLength="35.9" lengthAdjust="spacingAndGlyphs" stroke="#333" stroke-width="0.22">25.6936</text>
<text x="80.6" y="627.9" font-size="10" fill="#4caf50" textLength="35.4" lengthAdjust="spacingAndGlyphs" stroke="#4caf50" stroke-width="0.22">24.9006</text>
<text x="122.9" y="627.9" font-size="10" fill="#f05a6a" textLength="35.6" lengthAdjust="spacingAndGlyphs" stroke="#f05a6a" stroke-width="0.22">22.0793</text>
<text x="762.5" y="629.8" font-size="10" fill="#111" font-weight="bold" textLength="83.1" lengthAdjust="spacingAndGlyphs">ADX High Jan 2026</text>
<text x="763" y="650" font-size="10" fill="#4caf50" font-weight="bold" textLength="89.8" lengthAdjust="spacingAndGlyphs">+ DMI High Dec 2025</text>
<text x="763" y="732.4" font-size="10" fill="#f05a6a" font-weight="bold" textLength="86" lengthAdjust="spacingAndGlyphs">- DMI Low Dec 2025</text>
<g>
<rect x="861.3" y="26.6" width="51.1" height="21.8" rx="3" fill="#fff" stroke="#efefef" stroke-width="1"/>
<rect x="919.4" y="26.6" width="39.6" height="21.8" rx="3" fill="#fff" stroke="#efefef" stroke-width="1"/>
<rect x="965.6" y="26.6" width="46.2" height="21.8" rx="3" fill="#fff" stroke="#efefef" stroke-width="1"/>
<text x="869" y="42" font-size="10" fill="#131722" textLength="17.4" lengthAdjust="spacingAndGlyphs" stroke="#131722" stroke-width="0.22">USD</text>
<text x="927.6" y="42" font-size="10" fill="#131722" textLength="17.3" lengthAdjust="spacingAndGlyphs" stroke="#131722" stroke-width="0.22">USD</text>
<text x="973.5" y="42" font-size="10" fill="#131722" textLength="17.6" lengthAdjust="spacingAndGlyphs" stroke="#131722" stroke-width="0.22">USD</text>
<text x="865.7" y="72.0" font-size="10" fill="#555a66" textLength="30.2" lengthAdjust="spacingAndGlyphs" stroke="#555a66" stroke-width="0.22">82.000</text>
<text x="865.7" y="118.69" font-size="10" fill="#555a66" textLength="30.2" lengthAdjust="spacingAndGlyphs" stroke="#555a66" stroke-width="0.22">80.000</text>
<text x="865.7" y="165.38" font-size="10" fill="#555a66" textLength="30.2" lengthAdjust="spacingAndGlyphs" stroke="#555a66" stroke-width="0.22">78.000</text>
<text x="865.7" y="212.07" font-size="10" fill="#555a66" textLength="30.2" lengthAdjust="spacingAndGlyphs" stroke="#555a66" stroke-width="0.22">76.000</text>
<text x="865.7" y="258.76" font-size="10" fill="#555a66" textLength="30.2" lengthAdjust="spacingAndGlyphs" stroke="#555a66" stroke-width="0.22">74.000</text>
<text x="865.7" y="352.14" font-size="10" fill="#555a66" textLength="30.2" lengthAdjust="spacingAndGlyphs" stroke="#555a66" stroke-width="0.22">70.000</text>
<text x="865.7" y="398.83" font-size="10" fill="#555a66" textLength="30.2" lengthAdjust="spacingAndGlyphs" stroke="#555a66" stroke-width="0.22">68.000</text>
<text x="865.7" y="445.52" font-size="10" fill="#555a66" textLength="30.2" lengthAdjust="spacingAndGlyphs" stroke="#555a66" stroke-width="0.22">66.000</text>
<text x="865.7" y="492.21" font-size="10" fill="#555a66" textLength="30.2" lengthAdjust="spacingAndGlyphs" stroke="#555a66" stroke-width="0.22">64.000</text>
<text x="865.7" y="538.9" font-size="10" fill="#555a66" textLength="30.2" lengthAdjust="spacingAndGlyphs" stroke="#555a66" stroke-width="0.22">62.000</text>
<text x="865.7" y="585.5899999999999" font-size="10" fill="#555a66" textLength="30.2" lengthAdjust="spacingAndGlyphs" stroke="#555a66" stroke-width="0.22">60.000</text>
<text x="865.7" y="305.7" font-size="10" fill="#555a66" textLength="30.2" lengthAdjust="spacingAndGlyphs" stroke="#555a66" stroke-width="0.22">72.000</text>
<text x="924" y="81.2" font-size="10" fill="#555a66" textLength="25" lengthAdjust="spacingAndGlyphs" stroke="#555a66" stroke-width="0.22">99.50</text>
<text x="924" y="111.9" font-size="10" fill="#555a66" textLength="25" lengthAdjust="spacingAndGlyphs" stroke="#555a66" stroke-width="0.22">99.00</text>
<text x="924" y="142.6" font-size="10" fill="#555a66" textLength="25" lengthAdjust="spacingAndGlyphs" stroke="#555a66" stroke-width="0.22">98.50</text>
<text x="924" y="173.29999999999998" font-size="10" fill="#555a66" textLength="25" lengthAdjust="spacingAndGlyphs" stroke="#555a66" stroke-width="0.22">98.00</text>
<text x="924" y="204.0" font-size="10" fill="#555a66" textLength="25" lengthAdjust="spacingAndGlyphs" stroke="#555a66" stroke-width="0.22">97.50</text>
<text x="924" y="234.70000000000002" font-size="10" fill="#555a66" textLength="25" lengthAdjust="spacingAndGlyphs" stroke="#555a66" stroke-width="0.22">97.00</text>
<text x="924" y="265.4" font-size="10" fill="#555a66" textLength="25" lengthAdjust="spacingAndGlyphs" stroke="#555a66" stroke-width="0.22">96.50</text>
<text x="924" y="296.09999999999997" font-size="10" fill="#555a66" textLength="25" lengthAdjust="spacingAndGlyphs" stroke="#555a66" stroke-width="0.22">96.00</text>
<text x="924" y="326.79999999999995" font-size="10" fill="#555a66" textLength="25" lengthAdjust="spacingAndGlyphs" stroke="#555a66" stroke-width="0.22">95.50</text>
<text x="924" y="357.5" font-size="10" fill="#555a66" textLength="25" lengthAdjust="spacingAndGlyphs" stroke="#555a66" stroke-width="0.22">95.00</text>
<text x="924" y="388.2" font-size="10" fill="#555a66" textLength="25" lengthAdjust="spacingAndGlyphs" stroke="#555a66" stroke-width="0.22">94.50</text>
<text x="924" y="418.9" font-size="10" fill="#555a66" textLength="25" lengthAdjust="spacingAndGlyphs" stroke="#555a66" stroke-width="0.22">94.00</text>
<text x="924" y="449.59999999999997" font-size="10" fill="#555a66" textLength="25" lengthAdjust="spacingAndGlyphs" stroke="#555a66" stroke-width="0.22">93.50</text>
<text x="924" y="480.29999999999995" font-size="10" fill="#555a66" textLength="25" lengthAdjust="spacingAndGlyphs" stroke="#555a66" stroke-width="0.22">93.00</text>
<text x="924" y="511.0" font-size="10" fill="#555a66" textLength="25" lengthAdjust="spacingAndGlyphs" stroke="#555a66" stroke-width="0.22">92.50</text>
<text x="924" y="541.6999999999999" font-size="10" fill="#555a66" textLength="25" lengthAdjust="spacingAndGlyphs" stroke="#555a66" stroke-width="0.22">92.00</text>
<text x="924" y="572.4" font-size="10" fill="#555a66" textLength="25" lengthAdjust="spacingAndGlyphs" stroke="#555a66" stroke-width="0.22">91.50</text>
<text x="924" y="603.0999999999999" font-size="10" fill="#555a66" textLength="25" lengthAdjust="spacingAndGlyphs" stroke="#555a66" stroke-width="0.22">91.00</text>
<text x="970.5" y="67.0" font-size="10" fill="#555a66" textLength="35.5" lengthAdjust="spacingAndGlyphs" stroke="#555a66" stroke-width="0.22">100.600</text>
<text x="970.5" y="96.87" font-size="10" fill="#555a66" textLength="35.5" lengthAdjust="spacingAndGlyphs" stroke="#555a66" stroke-width="0.22">100.500</text>
<text x="970.5" y="126.74000000000001" font-size="10" fill="#555a66" textLength="35.5" lengthAdjust="spacingAndGlyphs" stroke="#555a66" stroke-width="0.22">100.400</text>
<text x="970.5" y="156.61" font-size="10" fill="#555a66" textLength="35.5" lengthAdjust="spacingAndGlyphs" stroke="#555a66" stroke-width="0.22">100.300</text>
<text x="970.5" y="186.48000000000002" font-size="10" fill="#555a66" textLength="35.5" lengthAdjust="spacingAndGlyphs" stroke="#555a66" stroke-width="0.22">100.200</text>
<text x="970.5" y="216.35" font-size="10" fill="#555a66" textLength="35.5" lengthAdjust="spacingAndGlyphs" stroke="#555a66" stroke-width="0.22">100.100</text>
<text x="970.5" y="246.22" font-size="10" fill="#555a66" textLength="35.5" lengthAdjust="spacingAndGlyphs" stroke="#555a66" stroke-width="0.22">100.000</text>
<text x="969.8" y="276.09" font-size="10" fill="#555a66" textLength="30.5" lengthAdjust="spacingAndGlyphs" stroke="#555a66" stroke-width="0.22">99.900</text>
<text x="969.8" y="305.96" font-size="10" fill="#555a66" textLength="30.5" lengthAdjust="spacingAndGlyphs" stroke="#555a66" stroke-width="0.22">99.800</text>
<text x="969.8" y="335.83" font-size="10" fill="#555a66" textLength="30.5" lengthAdjust="spacingAndGlyphs" stroke="#555a66" stroke-width="0.22">99.700</text>
<text x="969.8" y="365.7" font-size="10" fill="#555a66" textLength="30.5" lengthAdjust="spacingAndGlyphs" stroke="#555a66" stroke-width="0.22">99.600</text>
<text x="969.8" y="395.57" font-size="10" fill="#555a66" textLength="30.5" lengthAdjust="spacingAndGlyphs" stroke="#555a66" stroke-width="0.22">99.500</text>
<text x="969.8" y="425.44" font-size="10" fill="#555a66" textLength="30.5" lengthAdjust="spacingAndGlyphs" stroke="#555a66" stroke-width="0.22">99.400</text>
<text x="969.8" y="455.31" font-size="10" fill="#555a66" textLength="30.5" lengthAdjust="spacingAndGlyphs" stroke="#555a66" stroke-width="0.22">99.300</text>
<text x="969.8" y="515.0500000000001" font-size="10" fill="#555a66" textLength="30.5" lengthAdjust="spacingAndGlyphs" stroke="#555a66" stroke-width="0.22">99.100</text>
<text x="969.8" y="544.92" font-size="10" fill="#555a66" textLength="30.5" lengthAdjust="spacingAndGlyphs" stroke="#555a66" stroke-width="0.22">99.000</text>
<text x="969.8" y="574.79" font-size="10" fill="#555a66" textLength="30.5" lengthAdjust="spacingAndGlyphs" stroke="#555a66" stroke-width="0.22">98.900</text>
<text x="969.8" y="604.66" font-size="10" fill="#555a66" textLength="30.5" lengthAdjust="spacingAndGlyphs" stroke="#555a66" stroke-width="0.22">98.800</text>
<rect x="857.5" y="275.8" width="42.8" height="14.6" rx="1.5" fill="#2f9c47"/>
<text x="865.6" y="287.2" font-size="10.5" fill="#fff" textLength="30.5" lengthAdjust="spacingAndGlyphs" stroke="#fff" stroke-width="0.25">72.805</text>
<rect x="916.2" y="371.4" width="37.2" height="13.6" rx="2" fill="#000"/>
<text x="923.8" y="382.3" font-size="10.5" fill="#fff" textLength="24.5" lengthAdjust="spacingAndGlyphs" stroke="#fff" stroke-width="0.3">94.61</text>
<rect x="963.5" y="477.6" width="40.9" height="13.7" rx="2" fill="#1e9d8b"/>
<text x="969.3" y="488.5" font-size="10.5" fill="#fff" textLength="30" lengthAdjust="spacingAndGlyphs" stroke="#fff" stroke-width="0.25">99.192</text>
<text x="865.7" y="622.4" font-size="10" fill="#555a66" textLength="36.5" lengthAdjust="spacingAndGlyphs" stroke="#555a66" stroke-width="0.22">80.0000</text>
<text x="865.7" y="648.78" font-size="10" fill="#555a66" textLength="36.5" lengthAdjust="spacingAndGlyphs" stroke="#555a66" stroke-width="0.22">60.0000</text>
<text x="865.7" y="675.16" font-size="10" fill="#555a66" textLength="36.5" lengthAdjust="spacingAndGlyphs" stroke="#555a66" stroke-width="0.22">40.0000</text>
<text x="865.7" y="701.54" font-size="10" fill="#555a66" textLength="36.5" lengthAdjust="spacingAndGlyphs" stroke="#555a66" stroke-width="0.22">20.0000</text>
<text x="865.7" y="727.92" font-size="10" fill="#555a66" textLength="31" lengthAdjust="spacingAndGlyphs" stroke="#555a66" stroke-width="0.22">0.0000</text>
</g>
<text x="8.9" y="764.4" font-size="10" fill="#555a66" textLength="41.2" lengthAdjust="spacingAndGlyphs" stroke="#555a66" stroke-width="0.22">12:00 PM</text>
<text x="83.9" y="764.4" font-size="10" fill="#555a66" textLength="41.2" lengthAdjust="spacingAndGlyphs" stroke="#555a66" stroke-width="0.22">06:00 PM</text>
<text x="189.4" y="764.4" font-size="10" fill="#50535e" font-weight="bold" textLength="11.5" lengthAdjust="spacingAndGlyphs">18</text>
<text x="265.1" y="764.4" font-size="10" fill="#555a66" textLength="41.9" lengthAdjust="spacingAndGlyphs" stroke="#555a66" stroke-width="0.22">06:00 AM</text>
<text x="356.3" y="764.4" font-size="10" fill="#555a66" textLength="41.2" lengthAdjust="spacingAndGlyphs" stroke="#555a66" stroke-width="0.22">12:00 PM</text>
<text x="431.3" y="764.4" font-size="10" fill="#555a66" textLength="41.2" lengthAdjust="spacingAndGlyphs" stroke="#555a66" stroke-width="0.22">06:00 PM</text>
<text x="537.2" y="764.4" font-size="10" fill="#50535e" font-weight="bold" textLength="11.5" lengthAdjust="spacingAndGlyphs">19</text>
<text x="612.3" y="764.4" font-size="10" fill="#555a66" textLength="41.9" lengthAdjust="spacingAndGlyphs" stroke="#555a66" stroke-width="0.22">06:00 AM</text>
<text x="703.4" y="764.4" font-size="10" fill="#555a66" textLength="41.2" lengthAdjust="spacingAndGlyphs" stroke="#555a66" stroke-width="0.22">12:00 PM</text>
<text x="778.8" y="764.4" font-size="10" fill="#555a66" textLength="41.2" lengthAdjust="spacingAndGlyphs" stroke="#555a66" stroke-width="0.22">06:00 PM</text>
<circle cx="887.2" cy="761.3" r="7" fill="#f2f2f3"/>
<text x="887.2" y="765" font-size="9.8" fill="#5d6068" text-anchor="middle" stroke="#5d6068" stroke-width="0.22">A</text>
<circle cx="939.4" cy="761.3" r="7" fill="#f2f2f3"/>
<text x="939.4" y="765" font-size="9.8" fill="#5d6068" text-anchor="middle" stroke="#5d6068" stroke-width="0.22">B</text>
<circle cx="989.1" cy="761.3" r="7" fill="#f2f2f3"/>
<text x="989.1" y="765" font-size="9.8" fill="#5d6068" text-anchor="middle" stroke="#5d6068" stroke-width="0.22">C</text>
<g fill="#131722">
<path d="M10.6,791.7 H20.4 V804.2 H16 V796.1 H10.6 Z"/>
<circle cx="24.5" cy="793.9" r="2.2"/>
<path d="M28.4,791.7 H35.7 L30.6,804.2 H24.8 Z"/>
</g>
<text x="42.3" y="804.2" font-size="17.1" fill="#131722" font-weight="bold" textLength="102.5" lengthAdjust="spacingAndGlyphs">TradingView</text>
</svg>
</body></html>
